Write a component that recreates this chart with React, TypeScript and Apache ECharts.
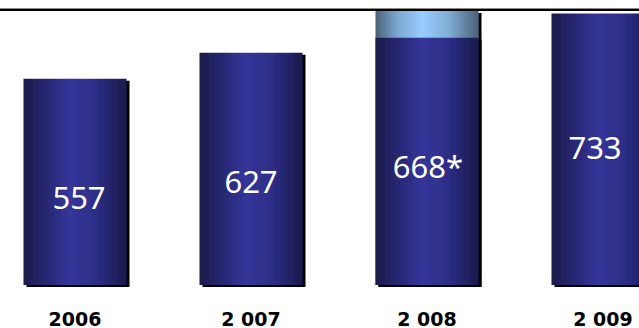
import React, { useEffect, useRef } from "react";
import * as echarts from "echarts";

const categories = ["2006", "2 007", "2 008", "2 009"];
const values = [557, 627, 668, 733];
const valueLabels = ["557", "627", "668*", "733"];
const estimateTop: (number | string)[] = ["-", "-", 740, "-"];
const yMax = 740;

const labelOffsets: [number, number][] = [
  [4, 15],
  [0, 12],
  [1, 5],
  [-8, -2],
];

const barGradient = new echarts.graphic.LinearGradient(0, 0, 1, 0, [
  { offset: 0, color: "#1a1a48" },
  { offset: 0.2, color: "#262670" },
  { offset: 0.45, color: "#35359a" },
  { offset: 0.7, color: "#2e2e88" },
  { offset: 1, color: "#1a1a4a" },
]);

const capGradient = new echarts.graphic.LinearGradient(0, 0, 1, 0, [
  { offset: 0, color: "#4a6078" },
  { offset: 0.2, color: "#7aa4cc" },
  { offset: 0.45, color: "#99ccff" },
  { offset: 0.7, color: "#84b0d8" },
  { offset: 1, color: "#4a6078" },
]);

export default function App() {
  const ref = useRef<HTMLDivElement>(null);
  useEffect(() => {
    if (!ref.current) return;
    const chart = echarts.init(ref.current, undefined, { renderer: "svg" });
    chart.setOption({
      animation: false,
      backgroundColor: "#ffffff",
      grid: { left: 0, right: 0, top: 11, bottom: 43, containLabel: false },
      xAxis: {
        type: "category",
        data: categories,
        axisLine: { show: false },
        axisTick: { show: false },
        axisLabel: {
          color: "#000",
          fontFamily: "DejaVu Sans",
          fontWeight: "bold",
          fontSize: 19,
          margin: 24,
        },
      },
      yAxis: { type: "value", min: 0, max: yMax, show: false, splitLine: { show: false } },
      series: [
        {
          type: "bar",
          barWidth: 103,
          barGap: "-100%",
          data: estimateTop,
          itemStyle: {
            color: capGradient,
            shadowColor: "#000",
            shadowOffsetX: 3,
            shadowOffsetY: 2,
            shadowBlur: 0,
          },
        },
        {
          type: "bar",
          barWidth: 103,
          barGap: "-100%",
          data: values.map((v, i) => ({
            value: v,
            label: { offset: labelOffsets[i] },
          })),
          itemStyle: {
            color: barGradient,
            shadowColor: "#000",
            shadowOffsetX: 3,
            shadowOffsetY: 2,
            shadowBlur: 0,
          },
          label: {
            show: true,
            position: "inside",
            color: "#fff",
            fontFamily: "Noto Sans",
            fontSize: 31,
            formatter: (p: any) => valueLabels[p.dataIndex],
          },
        },
      ],
      graphic: [
        {
          type: "line",
          z: 100,
          shape: { x1: 0, y1: 8.5, x2: 704, y2: 8.5 },
          style: { stroke: "#8a8a8a", lineWidth: 1 },
        },
        {
          type: "line",
          z: 100,
          shape: { x1: 0, y1: 10, x2: 704, y2: 10 },
          style: { stroke: "#000", lineWidth: 2 },
        },
      ],
    });
    return () => chart.dispose();
  }, []);
  return (
    <div
      ref={ref}
      style={{ position: "fixed", left: -13, top: 0, width: 704, height: 328 }}
    />
  );
}
